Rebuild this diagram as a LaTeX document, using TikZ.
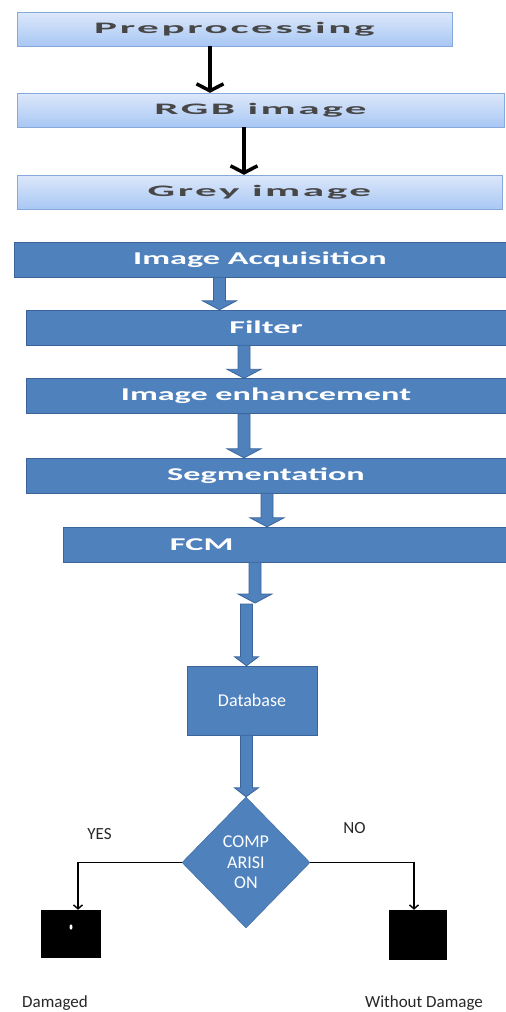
\documentclass[tikz,border=0pt]{standalone}
\usepackage{fontspec}
\setmainfont{Carlito}
\newfontfamily\widefont[LetterSpace=6]{Carlito}
\usetikzlibrary{calc, positioning, shapes.geometric, arrows.meta}
\definecolor{boxblue}{HTML}{4F81BD}
\definecolor{boxedge}{HTML}{3A659A}
\definecolor{paletop}{HTML}{DDE8FA}
\definecolor{palebot}{HTML}{A8C7F4}
\definecolor{paleedge}{HTML}{86A8DA}
\newcommand{\wide}[2]{\scalebox{#1}[1]{#2}}

\tikzset{
  palebox/.style={draw=paleedge, top color=paletop, bottom color=palebot,
    minimum height=34pt, inner sep=0pt, font=\fontsize{16}{18}\widefont\bfseries, text=black!72},
  bluebox/.style={draw=boxedge, fill=boxblue, minimum height=35pt, inner sep=0pt,
    font=\fontsize{18}{20}\selectfont\bfseries, text=white},
  blkarrow/.style={line width=3.5pt, -{Straight Barb[length=7pt,width=27pt]}},
  thinline/.style={line width=1.4pt, -{Straight Barb[length=4pt,width=9pt]}},
  barrow/.style={fill=boxblue, draw=boxedge, line width=0.8pt,
    to path={let \p1=(\tikztostart), \p2=(\tikztotarget) in
      (\x1-6pt,\y1) -- (\x1-6pt,\y2+9pt) -- (\x1-#1,\y2+9pt) -- (\x2,\y2)
      -- (\x1+#1,\y2+9pt) -- (\x1+6pt,\y2+9pt) -- (\x1+6pt,\y1) -- cycle}},
  barrow/.default=17pt,
  lbl/.style={font=\fontsize{17}{20}\selectfont, text=black!85},
}

\begin{document}
\begin{tikzpicture}[x=1pt, y=-1pt]
\useasboundingbox (0,0) rectangle (506,1012);

% preprocessing stage
\node[palebox, minimum width=435pt] (pre) at (234.5,29) {\wide{2.7}{Preprocessing}};
\node[palebox, minimum width=487pt] (rgb) at (260.5,110) {\wide{2.7}{RGB image}};
\node[palebox, minimum width=485pt] (grey) at (259.5,192) {\wide{2.7}{Grey image}};
\draw[blkarrow] (210,0 |- pre.south) -- (210,0 |- rgb.north);
\draw[blkarrow] (244,0 |- rgb.south) -- (244,0 |- grey.north);

% main chain
\node[bluebox, minimum width=492pt] (acq) at (260,259.5) {\wide{1.9}{Image Acquisition}};
\node[bluebox, minimum width=480pt] (filt) at (266,327.5) {\wide{1.9}{Filter}};
\node[bluebox, minimum width=480pt] (enh) at (266,396) {\wide{1.9}{Image enhancement}};
\node[bluebox, minimum width=480pt] (seg) at (266,475.5) {\wide{1.9}{Segmentation}};
\node[bluebox, minimum width=443pt, text width=443pt, align=left] (fcm) at (284.5,544.5)
  {\hspace*{107pt}\wide{1.9}{FCM}};
\node[bluebox, minimum width=130pt, minimum height=69pt, font=\fontsize{18}{20}\selectfont] (db)
  at (252,700.5) {Database};
\node[diamond, fill=boxblue, draw=boxedge, minimum width=128pt, minimum height=131pt, inner sep=0pt,
  align=center, text=white, font=\fontsize{18}{20.5}\selectfont] (cmp) at (246,862.5) {COMP\\ARISI\\ON};

\path[barrow] (219.5,0 |- acq.south) to (219.5,0 |- filt.north);
\path[barrow] (244,0 |- filt.south) to (244,0 |- enh.north);
\path[barrow] (244,0 |- enh.south) to (244,0 |- seg.north);
\path[barrow] (267,0 |- seg.south) to (267,0 |- fcm.north);
\coordinate (gap) at (255,603);
\path[barrow] (255,0 |- fcm.south) to (gap);
\path[barrow=12pt] (246.5,604) to (246.5,0 |- db.north);
\path[barrow=12pt] (246.5,0 |- db.south) to (cmp.north);

% outcomes
\node[fill=black, minimum width=60pt, minimum height=48pt, inner sep=0pt] (dmg) at (71,934) {};
\node[fill=black, minimum width=58pt, minimum height=50pt, inner sep=0pt] (ok) at (418,935) {};
\fill[white] (71,927) ellipse (1.5pt and 2.6pt);
\draw[thinline] (cmp.west) -| ([xshift=7pt]dmg.north);
\draw[thinline] (cmp.east) -| ([xshift=-4pt]ok.north);
\node[lbl] (yes) at (99.5,834) {YES};
\node[lbl] (no) at (354.5,828) {NO};
\node[lbl] (dmgtxt) at (55,1003) {Damaged};
\node[lbl] (oktxt) at (424,1003) {Without Damage};
\end{tikzpicture}
\end{document}
